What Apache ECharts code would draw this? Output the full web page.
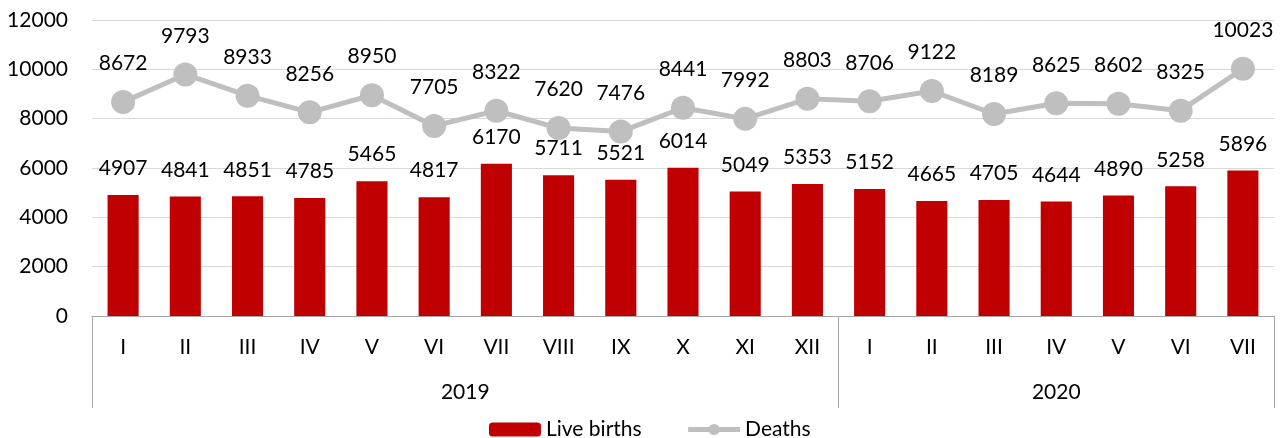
<!DOCTYPE html>
<html lang="en">
<head>
    <meta charset="UTF-8" />
    <title>Live births and deaths</title>
    <script src="https://cdn.jsdelivr.net/npm/echarts@6/dist/echarts.min.js"></script>
    <style>
        html, body { margin: 0; padding: 0; background: #fff; }
        #chart { width: 1282px; height: 438px; }
    </style>
</head>
<body>
    <div id="chart"></div>
    <script>
        // data
        const months = ['I', 'II', 'III', 'IV', 'V', 'VI', 'VII', 'VIII', 'IX', 'X', 'XI', 'XII',
                        'I', 'II', 'III', 'IV', 'V', 'VI', 'VII'];
        const years = ['2019', '2020'];
        const yearStart = [0, 12];   // index of first month of each year
        const yearEnd = [12, 19];
        const liveBirths = [4907, 4841, 4851, 4785, 5465, 4817, 6170, 5711, 5521, 6014, 5049, 5353,
                            5152, 4665, 4705, 4644, 4890, 5258, 5896];
        const deaths = [8672, 9793, 8933, 8256, 8950, 7705, 8322, 7620, 7476, 8441, 7992, 8803,
                        8706, 9122, 8189, 8625, 8602, 8325, 10023];

        const font = 'Lato, "Noto Sans", sans-serif';
        const txt = { fontFamily: font, fontSize: 21, color: '#000' };

        // year label positions (centre of each year group) and separators
        const yearCentres = yearStart.map((s, i) => (s + yearEnd[i]) / 2);
        const separators = [0].concat(yearEnd);

        const chart = echarts.init(document.getElementById('chart'));
        chart.setOption({
            animation: false,
            textStyle: { fontFamily: font },
            grid: { left: 92, right: 8, top: 20, bottom: 122 },
            legend: {
                data: [
                    { name: 'Live births' },
                    { name: 'Deaths', lineStyle: { width: 5 } }
                ],
                top: 419,
                left: 489,
                padding: 0,
                itemGap: 44,
                itemWidth: 52,
                itemHeight: 14,
                textStyle: txt
            },
            xAxis: [
                {
                    type: 'category',
                    data: months,
                    axisLine: { lineStyle: { color: '#a6a6a6', width: 1 } },
                    axisTick: { show: false },
                    axisLabel: Object.assign({ margin: 21, interval: 0 }, txt)
                },
                {
                    type: 'value',
                    min: 0,
                    max: 19,
                    position: 'bottom',
                    axisLine: { show: false },
                    splitLine: { show: false },
                    axisTick: {
                        show: true,
                        customValues: separators,
                        length: 92,
                        lineStyle: { color: '#a6a6a6', width: 1 }
                    },
                    axisLabel: Object.assign({
                        customValues: yearCentres,
                        margin: 66,
                        formatter: v => years[yearCentres.indexOf(v)]
                    }, txt)
                }
            ],
            yAxis: {
                type: 'value',
                min: 0,
                max: 12000,
                interval: 2000,
                axisLine: { show: false },
                axisTick: { show: false },
                splitLine: { lineStyle: { color: '#d9d9d9', width: 1 } },
                axisLabel: Object.assign({ margin: 24, formatter: v => String(v) }, txt)
            },
            series: [
                {
                    name: 'Live births',
                    type: 'bar',
                    data: liveBirths,
                    barWidth: '50%',
                    itemStyle: { color: '#c00000' },
                    label: Object.assign({ show: true, position: 'top', distance: 16 }, txt)
                },
                {
                    name: 'Deaths',
                    type: 'line',
                    data: deaths,
                    symbol: 'circle',
                    symbolSize: 24,
                    lineStyle: { color: '#bfbfbf', width: 5 },
                    itemStyle: { color: '#bfbfbf' },
                    label: Object.assign({ show: true, position: 'top', distance: 16 }, txt)
                }
            ]
        });
    </script>
</body>
</html>
